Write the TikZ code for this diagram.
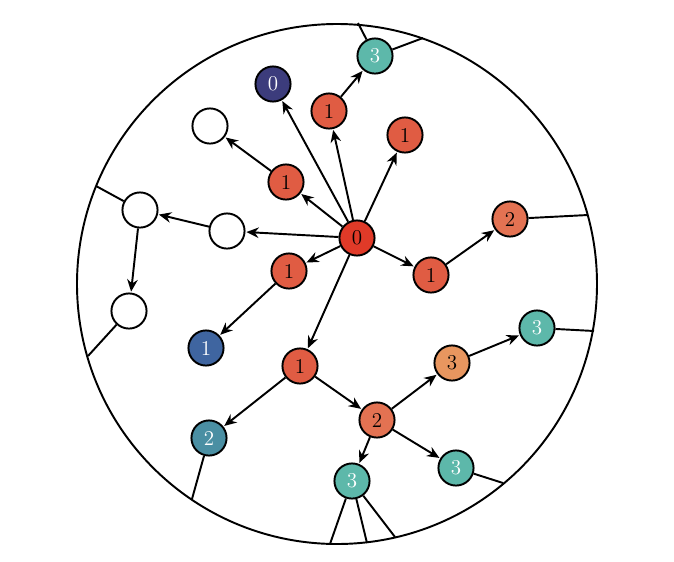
\documentclass[tikz,border=0pt]{standalone}
\usetikzlibrary{arrows.meta}
\definecolor{cz}{HTML}{E03A28}
\definecolor{cr}{HTML}{E05C43}
\definecolor{co}{HTML}{E37252}
\definecolor{cy}{HTML}{E8965F}
\definecolor{ct}{HTML}{5DB8AA}
\definecolor{cb}{HTML}{4A8FA3}
\definecolor{cu}{HTML}{3F65A0}
\definecolor{cn}{HTML}{3C3C7C}
\tikzset{
 nd/.style={circle,draw,line width=1.1pt,minimum size=20pt,inner sep=0pt,font=\large},
 wt/.style={text=white},
 ar/.style={-{Stealth[length=7pt,width=6pt]},line width=1.1pt,shorten >=0.5pt},
 ln/.style={line width=1.1pt}
}
\begin{document}
\begin{tikzpicture}[x=0.02cm,y=-0.02cm]
\useasboundingbox (0,0) rectangle (674,562);
\node[circle,draw,line width=1.1pt,minimum size=520*0.02cm,inner sep=0pt] (C) at (337,284) {};
\node[nd,fill=cz] (z) at (357,238) {0};
\node[nd,fill=cn,wt] (n0) at (273,84) {0};
\node[nd,fill=cr] (a1) at (329,111) {1};
\node[nd,fill=ct,wt] (t1) at (375,56) {3};
\node[nd,fill=cr] (a2) at (405,135) {1};
\node[nd,fill=white] (w1) at (210,126) {};
\node[nd,fill=cr] (a3) at (286,182) {1};
\node[nd,fill=white] (w2) at (140,210) {};
\node[nd,fill=white] (w3) at (227,231) {};
\node[nd,fill=white] (w4) at (129,311) {};
\node[nd,fill=cr] (a4) at (289,271) {1};
\node[nd,fill=cu,wt] (u1) at (206,348) {1};
\node[nd,fill=cr] (a5) at (431,275) {1};
\node[nd,fill=co] (o1) at (510,219) {2};
\node[nd,fill=cr] (a6) at (300,366) {1};
\node[nd,fill=cb,wt] (b1) at (209,438) {2};
\node[nd,fill=co] (o2) at (377,420) {2};
\node[nd,fill=cy] (y1) at (452,363) {3};
\node[nd,fill=ct,wt] (t2) at (537,328) {3};
\node[nd,fill=ct,wt] (t3) at (352,481) {3};
\node[nd,fill=ct,wt] (t4) at (456,468) {3};
\coordinate (e1) at (358,23); \coordinate (e2) at (423,38);
\coordinate (e3) at (96,186); \coordinate (e4) at (88,356);
\coordinate (e5) at (588,215); \coordinate (e6) at (594,331);
\coordinate (e7) at (503,483); \coordinate (e8) at (330,544);
\coordinate (e9) at (367,543); \coordinate (e10) at (395,537);
\coordinate (e11) at (192,499);
\draw[ln] (t1)--(e1) (t1)--(e2) (w2)--(e3) (w4)--(e4) (o1)--(e5) (t2)--(e6)
 (t4)--(e7) (t3)--(e8) (t3)--(e9) (t3)--(e10) (b1)--(e11);
\foreach \s/\t in {z/n0,z/a1,a1/t1,z/a2,z/a3,a3/w1,z/w3,w3/w2,w2/w4,z/a4,a4/u1,z/a5,a5/o1,z/a6,a6/b1,a6/o2,o2/y1,y1/t2,o2/t3,o2/t4}
 \draw[ar] (\s)--(\t);
\end{tikzpicture}
\end{document}
